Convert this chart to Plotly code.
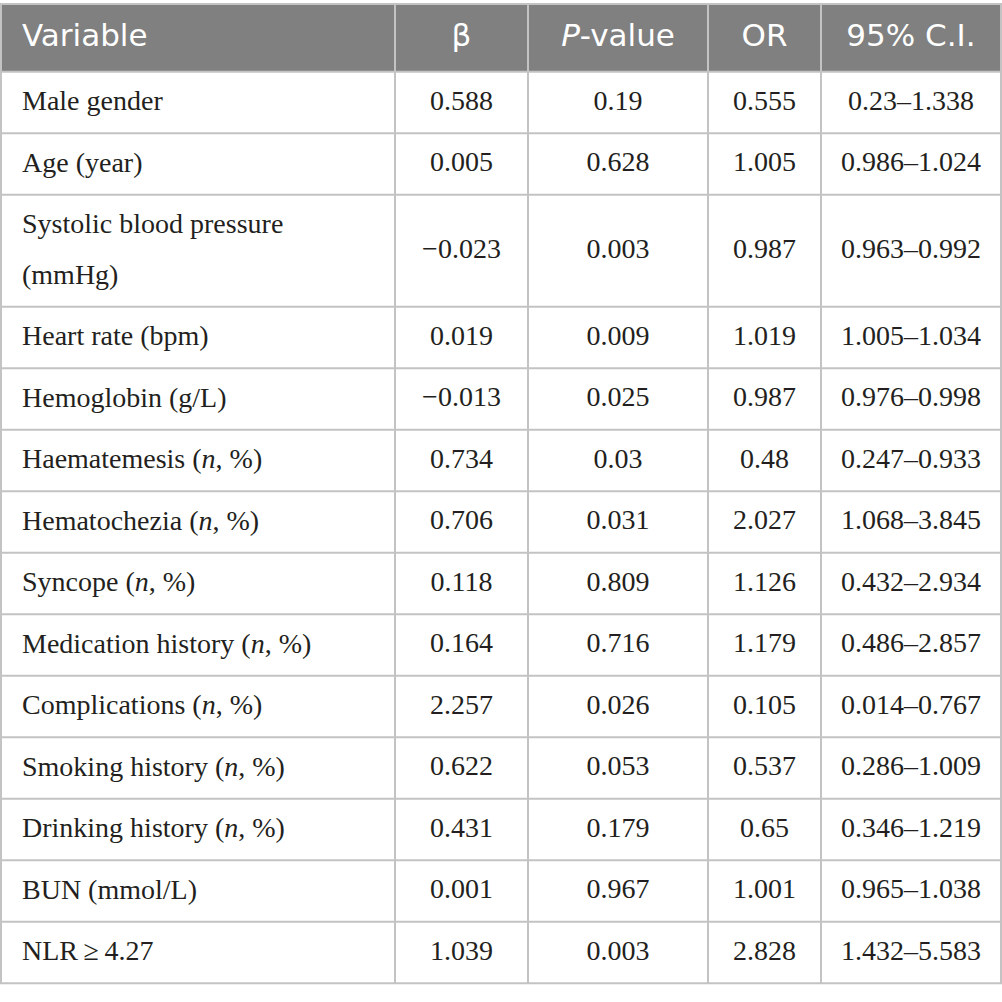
import plotly.graph_objects as go

# ---------------- data ----------------
headers = ["Variable", "β", "<i>P</i>-value", "OR", "95% C.I."]
variables = [
    "Male gender",
    "Age (year)",
    "Systolic blood pressure<br>(mmHg)",
    "Heart rate (bpm)",
    "Hemoglobin (g/L)",
    "Haematemesis (<i>n</i>, %)",
    "Hematochezia (<i>n</i>, %)",
    "Syncope (<i>n</i>, %)",
    "Medication history (<i>n</i>, %)",
    "Complications (<i>n</i>, %)",
    "Smoking history (<i>n</i>, %)",
    "Drinking history (<i>n</i>, %)",
    "BUN (mmol/L)",
    "NLR\u2009≥\u20094.27",
]
beta = [0.588, 0.005, -0.023, 0.019, -0.013, 0.734, 0.706, 0.118, 0.164, 2.257, 0.622, 0.431, 0.001, 1.039]
p_value = [0.19, 0.628, 0.003, 0.009, 0.025, 0.03, 0.031, 0.809, 0.716, 0.026, 0.053, 0.179, 0.967, 0.003]
odds_ratio = [0.555, 1.005, 0.987, 1.019, 0.987, 0.48, 2.027, 1.126, 1.179, 0.105, 0.537, 0.65, 1.001, 2.828]
ci_low = [0.23, 0.986, 0.963, 1.005, 0.976, 0.247, 1.068, 0.432, 0.486, 0.014, 0.286, 0.346, 0.965, 1.432]
ci_high = [1.338, 1.024, 0.992, 1.034, 0.998, 0.933, 3.845, 2.934, 2.857, 0.767, 1.009, 1.219, 1.038, 5.583]

# ---------------- layout / style ----------------
W = H = 1002
col_edges = [1, 395, 528, 708, 821, 1001]
table_top = 4
header_h = 67.7
row_h = 61.5
extra_line_h = 50.5
left_pad = 21
header_fill = "#808080"
grid_color = "#c3c3c3"
grid_w = 2
text_color = "#231f20"
body_font = dict(family="Liberation Serif", size=28, color=text_color)
head_font = dict(family="DejaVu Sans", size=31, color="#ffffff")


def fmt(v):
    return str(v).replace("-", "\u2212")


col_values = [
    [fmt(v) for v in beta],
    [fmt(v) for v in p_value],
    [fmt(v) for v in odds_ratio],
    [fmt(a) + "\u2013" + fmt(b) for a, b in zip(ci_low, ci_high)],
]

# row geometry
line_counts = [v.count("<br>") + 1 for v in variables]
row_bounds = [table_top, table_top + header_h]
for n in line_counts:
    row_bounds.append(row_bounds[-1] + row_h + (n - 1) * extra_line_h)
row_centers = [(row_bounds[i + 1] + row_bounds[i + 2]) / 2 for i in range(len(variables))]
header_center = (row_bounds[0] + row_bounds[1]) / 2
col_centers = [(col_edges[i] + col_edges[i + 1]) / 2 for i in range(len(col_edges) - 1)]
table_bottom = row_bounds[-1]

fig = go.Figure()

# header text
fig.add_trace(go.Scatter(
    x=[col_edges[0] + left_pad], y=[header_center], text=[headers[0]],
    mode="text", textposition="middle right", textfont=head_font, hoverinfo="skip"))
fig.add_trace(go.Scatter(
    x=col_centers[1:], y=[header_center] * 4, text=headers[1:],
    mode="text", textposition="middle center", textfont=head_font, hoverinfo="skip"))

# variable column (wrapped labels split onto separate lines)
vx, vy, vt = [], [], []
for label, n, yc in zip(variables, line_counts, row_centers):
    for k, part in enumerate(label.split("<br>")):
        vx.append(col_edges[0] + left_pad)
        vy.append(yc + 1 + (k - (n - 1) / 2) * extra_line_h)
        vt.append(part)
fig.add_trace(go.Scatter(
    x=vx, y=vy, text=vt, mode="text", textposition="middle right",
    textfont=body_font, hoverinfo="skip"))

# numeric columns
for ci, vals in enumerate(col_values):
    fig.add_trace(go.Scatter(
        x=[col_centers[ci + 1]] * len(vals), y=[yc + 0.5 for yc in row_centers],
        text=vals, mode="text", textposition="middle center",
        textfont=body_font, hoverinfo="skip"))

# shapes: header fill, grid lines
shapes = [dict(type="rect", xref="x", yref="y", x0=0, x1=W, y0=row_bounds[0], y1=row_bounds[1],
               fillcolor=header_fill, line=dict(width=0), layer="below")]
for yb in row_bounds:
    shapes.append(dict(type="line", xref="x", yref="y", x0=0, x1=W, y0=yb, y1=yb,
                       line=dict(color=grid_color, width=grid_w)))
for xb in col_edges:
    shapes.append(dict(type="line", xref="x", yref="y", x0=xb, x1=xb, y0=table_top, y1=table_bottom,
                       line=dict(color=grid_color, width=grid_w)))

fig.update_layout(
    width=W, height=H,
    margin=dict(l=0, r=0, t=0, b=0),
    paper_bgcolor="white", plot_bgcolor="white",
    showlegend=False,
    shapes=shapes,
    xaxis=dict(range=[0, W], visible=False, fixedrange=True),
    yaxis=dict(range=[H, 0], visible=False, fixedrange=True),
)

fig.write_html(
    "out.html",
    config={"displayModeBar": False, "staticPlot": True},
    post_script="document.body.style.margin='0';document.body.style.padding='0';"
                "document.documentElement.style.overflow='hidden';",
)
